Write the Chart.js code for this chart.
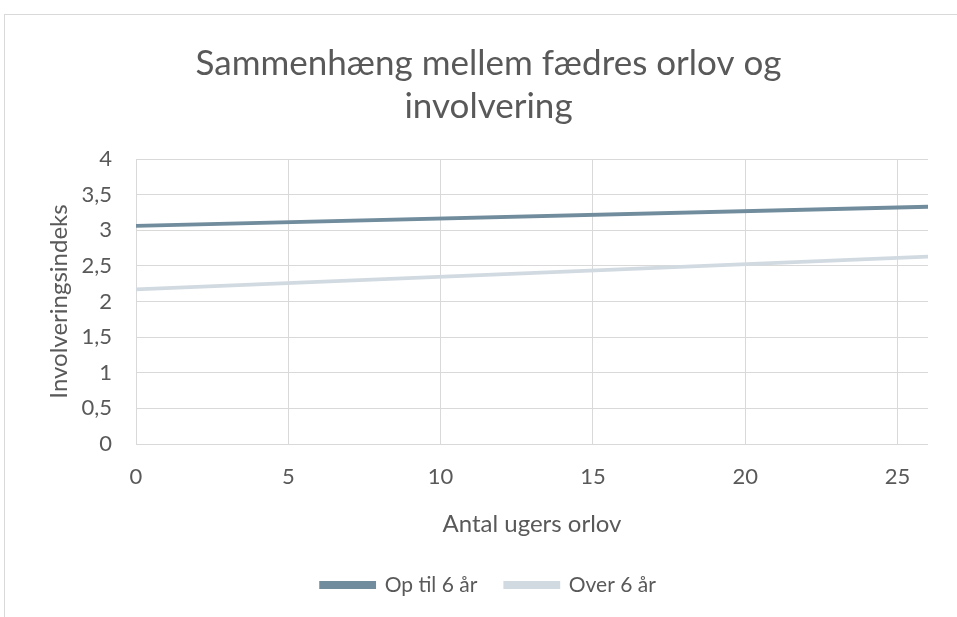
<!DOCTYPE html>
<html>
<head>
<meta charset="utf-8">
<script src="https://cdn.jsdelivr.net/npm/chart.js@4"></script>
<style>
html, body { margin:0; padding:0; background:#fff; overflow:hidden; }
#wrap { width:957px; height:617px; position:relative; overflow:hidden; }
</style>
</head>
<body>
<div id="wrap"><canvas id="chart" width="977" height="617"></canvas></div>
<script>

/* DATA */

const weeks = [0, 26];

const upTo6 = [3.06, 3.33];

const over6 = [2.17, 2.63];

const seriesNames = ["Op til 6 år", "Over 6 år"];

const yTicks = [0, 0.5, 1, 1.5, 2, 2.5, 3, 3.5, 4];

const xTicks = [0, 5, 10, 15, 20, 25];


const FONT = "Lato, 'Open Sans', sans-serif";
const TEXT = "#595959";
const GRID = "#d9d9d9";


/* frame round the chart */

const framePlugin = {
id:"frame",
beforeDraw(chart){
const c = chart.ctx;
c.save();
c.fillStyle = "#fff";
c.fillRect(0, 0, chart.width, chart.height);
c.strokeStyle = GRID;
c.lineWidth = 1;
c.strokeRect(4.5, 14.5, chart.width + 10, chart.height + 10);
c.restore();
}
};


function toPoints(values){
return weeks.map((w, i) => ({ x:w, y:values[i] }));
}


new Chart(document.getElementById("chart"), {

type:"line",

data:{
datasets:[
{
label:seriesNames[0],
data:toPoints(upTo6),
borderColor:"#718c9c",
backgroundColor:"#718c9c",
borderWidth:3.8,
pointRadius:0,
borderCapStyle:"round"
},
{
label:seriesNames[1],
data:toPoints(over6),
borderColor:"#d2dae1",
backgroundColor:"#d2dae1",
borderWidth:3.8,
pointRadius:0,
borderCapStyle:"round"
}
]
},

options:{
responsive:false,
animation:false,
layout:{ padding:{ left:0, right:0, top:0, bottom:11.5 } },
plugins:{
title:{
display:true,
text:["Sammenhæng mellem fædres orlov og", "involvering"],
color:TEXT,
font:{ family:FONT, size:35, weight:"normal", lineHeight:"43px" },
padding:{ top:42.5, bottom:30.5 }
},
legend:{
position:"bottom",
labels:{
color:TEXT,
font:{ family:FONT, size:21 },
boxWidth:53,
boxHeight:4,
padding:28
}
},
tooltip:{ enabled:false }
},
scales:{
x:{
type:"linear",
min:0,
max:26,
afterBuildTicks(scale){
scale.ticks = xTicks.map(v => ({ value:v }));
},
afterFit(scale){ scale.height = 102.5; },
grid:{ color:GRID, lineWidth:1, drawTicks:false },
border:{ display:false },
ticks:{ color:TEXT, font:{ family:FONT, size:22 }, padding:20, maxRotation:0 },
title:{
display:true,
text:"Antal ugers orlov",
color:TEXT,
font:{ family:FONT, size:24 },
padding:{ top:0, bottom:8 }
}
},
y:{
min:0,
max:4,
afterBuildTicks(scale){
scale.ticks = yTicks.map(v => ({ value:v }));
},
afterFit(scale){ scale.width = 136; },
grid:{ color:GRID, lineWidth:1, drawTicks:false },
border:{ display:false },
ticks:{
color:TEXT,
font:{ family:FONT, size:22 },
padding:24,
callback:v => String(v).replace(".", ",")
},
title:{
display:true,
text:"Involveringsindeks",
color:TEXT,
font:{ family:FONT, size:24 },
padding:{ top:45, bottom:0 }
}
},
spacer:{
type:"linear",
position:"right",
display:true,
afterFit(scale){ scale.width = 49; },
grid:{ display:false },
border:{ display:false },
ticks:{ display:false }
}
}
},

plugins:[framePlugin]

});

</script>
</body>
</html>
